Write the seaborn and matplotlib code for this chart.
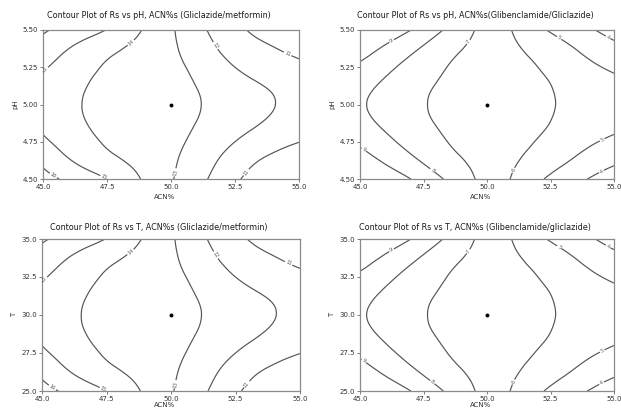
import numpy as np
import matplotlib
matplotlib.use("Agg")
import matplotlib.pyplot as plt
import matplotlib.tri as mtri
import seaborn as sns

# ---- data ----
acn = [45.0, 46.25, 47.5, 48.75, 50.0, 51.25, 52.5, 53.75, 55.0]
ph_grid = [4.500, 4.625, 4.750, 4.875, 5.000, 5.125, 5.250, 5.375, 5.500]
temp_grid = [25.00, 26.25, 27.50, 28.75, 30.00, 31.25, 32.50, 33.75, 35.00]
ph_ticks = [4.50, 4.75, 5.00, 5.25, 5.50]
temp_ticks = [25.0, 27.5, 30.0, 32.5, 35.0]
acn_ticks = [45.0, 47.5, 50.0, 52.5, 55.0]

# Rs read on the grid (rows: pH / T levels bottom->top, columns: ACN%)
rs_gliclazide_metformin = [
    [16.30, 15.70, 15.00, 14.05, 13.08, 12.15, 11.15, 10.50, 10.05],
    [15.79, 14.91, 14.25, 13.75, 13.14, 12.41, 11.52, 10.87, 10.39],
    [15.20, 14.42, 13.92, 13.60, 13.21, 12.69, 12.00, 11.45, 11.02],
    [14.76, 14.16, 13.80, 13.54, 13.26, 12.90, 12.39, 11.92, 11.55],
    [14.60, 14.08, 13.78, 13.52, 13.28, 12.98, 12.55, 12.10, 11.75],
    [14.74, 14.16, 13.81, 13.54, 13.26, 12.90, 12.39, 11.96, 11.61],
    [15.13, 14.40, 13.92, 13.60, 13.22, 12.68, 12.00, 11.55, 11.23],
    [15.65, 14.86, 14.24, 13.76, 13.16, 12.38, 11.60, 11.12, 10.72],
    [16.10, 15.60, 14.97, 14.08, 13.12, 12.12, 11.25, 10.65, 10.25],
]
rs_glibenclamide_gliclazide = [
    [9.95, 9.45, 8.63, 7.62, 6.65, 5.75, 4.82, 4.10, 3.55],
    [9.45, 8.70, 7.88, 7.15, 6.64, 6.01, 5.43, 4.73, 4.19],
    [8.80, 8.10, 7.40, 6.91, 6.60, 6.18, 5.80, 5.25, 4.80],
    [8.29, 7.71, 7.14, 6.81, 6.56, 6.27, 5.99, 5.58, 5.23],
    [8.10, 7.58, 7.05, 6.78, 6.55, 6.30, 6.05, 5.70, 5.38],
    [8.29, 7.71, 7.14, 6.81, 6.56, 6.28, 6.01, 5.60, 5.24],
    [8.80, 8.10, 7.40, 6.90, 6.60, 6.20, 5.85, 5.30, 4.85],
    [9.45, 8.70, 7.88, 7.13, 6.64, 6.05, 5.52, 4.84, 4.28],
    [9.95, 9.45, 8.63, 7.60, 6.65, 5.80, 4.90, 4.25, 3.65],
]
levels_gm = [11, 12, 13, 14, 15, 16]
levels_gg = [4, 5, 6, 7, 8, 9]
center_acn = [50.0]
center_ph = [5.0]
center_temp = [30.0]

titles = [
    "Contour Plot of Rs vs pH, ACN%s (Gliclazide/metformin)",
    "Contour Plot of Rs vs pH, ACN%s(Glibenclamide/Gliclazide)",
    "Contour Plot of Rs vs T, ACN%s (Gliclazide/metformin)",
    "Contour Plot of Rs vs T, ACN%s (Glibenclamide/gliclazide)",
]

# where the inline contour labels sit (ACN%, fraction of y range)
label_spots_gm = [(45.5, 0.05), (45.2, 0.71), (47.5, 0.05), (48.6, 0.88),
                  (50.0, 0.05), (51.6, 0.88), (54.5, 0.82), (52.9, 0.05)]
label_spots_gg = [(46.4, 0.88), (45.2, 0.21), (47.9, 0.07), (49.6, 0.88),
                  (50.9, 0.07), (52.6, 0.88), (54.4, 0.31), (54.7, 0.93), (54.3, 0.12)]

sns.set_theme(style="white")
plt.rcParams['font.family'] = ['DejaVu Sans']

W, H = 621, 409
fig = plt.figure(figsize=(W / 100, H / 100), dpi=100)

def px_axes(x0, y0, x1, y1):
    return fig.add_axes([x0 / W, 1 - y1 / H, (x1 - x0) / W, (y1 - y0) / H])

def draw(ax, ygrid, yticks, z, levels, spots, title, ylabel, yfmt, cy, tpad, xlab_y):
    z = np.asarray(z, dtype=float)
    gi, gj = np.meshgrid(np.arange(len(acn), dtype=float), np.arange(len(ygrid), dtype=float))
    tri = mtri.Triangulation(gi.ravel(), gj.ravel())
    interp = mtri.CubicTriInterpolator(tri, z.ravel(), kind='min_E')
    tri_f, z_f = mtri.UniformTriRefiner(tri).refine_field(z.ravel(), triinterpolator=interp, subdiv=4)
    xs = np.interp(tri_f.x, np.arange(len(acn)), acn)
    ys = np.interp(tri_f.y, np.arange(len(ygrid)), ygrid)
    tri_d = mtri.Triangulation(xs, ys, tri_f.triangles)
    cs = ax.tricontour(tri_d, z_f, levels=levels, colors='#555555', linewidths=0.85)
    y0, y1 = ygrid[0], ygrid[-1]
    manual = [(sx, y0 + f * (y1 - y0)) for sx, f in spots]
    ax.clabel(cs, fmt='%d', fontsize=3.6, inline=True, inline_spacing=1, manual=manual)
    sns.scatterplot(x=center_acn, y=cy, ax=ax, color='black', s=8, linewidth=0, zorder=5)
    ax.set_xlim(acn[0], acn[-1])
    ax.set_ylim(y0, y1)
    ax.set_xticks(acn_ticks)
    ax.set_xticklabels([f"{v:.1f}" for v in acn_ticks])
    ax.set_yticks(yticks)
    ax.set_yticklabels([yfmt.format(v) for v in yticks])
    ax.tick_params(axis='both', which='both', labelsize=5, length=2, width=0.6,
                   color='#666666', labelcolor='#333333', pad=1.5, direction='out',
                   bottom=True, left=True)
    for s in ax.spines.values():
        s.set_color('#8a8a8a')
        s.set_linewidth(0.9)
    ax.set_title(title, fontsize=5.75, color='#1a1a1a', pad=tpad, x=0.453)
    ax.set_xlabel("ACN%", fontsize=5, color='#333333', labelpad=1.5)
    ax.xaxis.set_label_coords(0.475, xlab_y)
    ax.set_ylabel(ylabel, fontsize=5, color='#333333', labelpad=3)

ax1 = px_axes(43, 30, 299, 179)
ax2 = px_axes(360, 30, 614, 179)
ax3 = px_axes(42, 239, 300, 391)
ax4 = px_axes(360, 239, 614, 391)

draw(ax1, ph_grid, ph_ticks, rs_gliclazide_metformin, levels_gm, label_spots_gm, titles[0], "pH", "{:.2f}", center_ph, 8.5, -0.1)
draw(ax2, ph_grid, ph_ticks, rs_glibenclamide_gliclazide, levels_gg, label_spots_gg, titles[1], "pH", "{:.2f}", center_ph, 8.5, -0.1)
draw(ax3, temp_grid, temp_ticks, rs_gliclazide_metformin, levels_gm, label_spots_gm, titles[2], "T", "{:.1f}", center_temp, 6.5, -0.075)
draw(ax4, temp_grid, temp_ticks, rs_glibenclamide_gliclazide, levels_gg, label_spots_gg, titles[3], "T", "{:.1f}", center_temp, 6.5, -0.075)

fig.savefig("out.png", dpi=100, facecolor='white')
